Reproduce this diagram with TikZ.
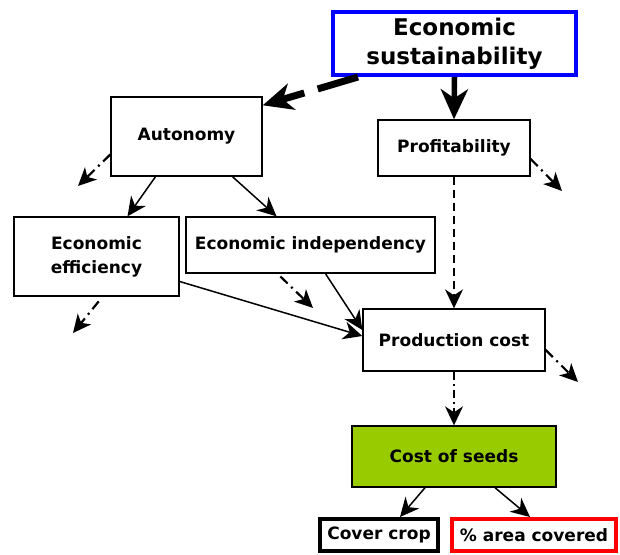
\documentclass[tikz,border=0pt]{standalone}
\usepackage{fontspec}
\usepackage{xcolor}
\setmainfont{DejaVu Sans}
\usetikzlibrary{arrows.meta}

\definecolor{seedgreen}{RGB}{153,204,0}

\begin{document}
\begin{tikzpicture}[x=1pt, y=-1pt,
        box/.style={rectangle, draw, line width=1.4pt, fill=white, align=center, inner sep=0pt, font=\bfseries\fontsize{17}{24}\selectfont},
        arrow/.style={-{Stealth[length=19pt,width=18pt,inset=6pt]}, line width=1.5pt},
        bigarrow/.style={-{Stealth[length=30pt,width=27pt,inset=9pt]}, line width=5.5pt},
        outarrow/.style={-{Stealth[length=18pt,width=17pt,inset=5pt]}, line width=2.2pt, dash pattern=on 10pt off 5pt on 2pt off 5pt}
    ]
        \useasboundingbox[fill=white] (0,0) rectangle (620,554);

        \node[box, draw=blue, line width=4pt, minimum width=243pt, minimum height=63pt, font=\bfseries\fontsize{23}{29}\selectfont] (sust) at (454.5,43.5) {Economic\\sustainability};
        \node[box, minimum width=151pt, minimum height=79pt] (auto) at (186.5,136.5) {Autonomy};
        \node[box, minimum width=152pt, minimum height=56pt] (prof) at (454,148) {Profitability};
        \node[box, minimum width=165pt, minimum height=79pt] (eff) at (96.5,256.5) {Economic\\efficiency};
        \node[box, minimum width=249pt, minimum height=56pt] (indep) at (310.5,245) {Economic independency};
        \node[box, minimum width=182pt, minimum height=62pt] (prod) at (454,340) {Production cost};
        \node[box, fill=seedgreen, minimum width=204pt, minimum height=61pt] (seeds) at (454,456.5) {Cost of seeds};
        \node[box, line width=4pt, minimum width=118pt, minimum height=32pt] (cover) at (379,535) {Cover crop};
        \node[box, draw=red, line width=4pt, minimum width=164pt, minimum height=32pt] (area) at (534,535) {\% area covered};

        \coordinate (autoout) at (78,186);
        \coordinate (profout) at (562,191);
        \coordinate (effout) at (73,333);
        \coordinate (indepout) at (313,308);
        \coordinate (prodout) at (578,382);

        \draw[bigarrow, line width=7pt, dash pattern=on 42pt off 14pt] ([xshift=27pt]sust.south west) -- ([yshift=-9pt]auto.north east);
        \draw[bigarrow] (sust.south) -- (prof.north);
        \draw[arrow] ([xshift=-31pt]auto.south) -- ([xshift=31pt]eff.north);
        \draw[arrow] ([xshift=46pt]auto.south) -- ([xshift=-34pt]indep.north);
        \draw[arrow, dash pattern=on 8pt off 5pt] (prof.south) -- (prod.north);
        \draw[arrow] ([yshift=-25pt]eff.east) -- ([yshift=4pt]prod.west);
        \draw[arrow] ([xshift=15pt]indep.south) -- ([yshift=10pt]prod.west);
        \draw[arrow, dash pattern=on 8pt off 4pt on 2pt off 4pt] (prod.south) -- (seeds.north);
        \draw[arrow] ([xshift=-29pt]seeds.south) -- ([xshift=21pt]cover.north);
        \draw[arrow] ([xshift=41pt]seeds.south) -- ([xshift=-4pt]area.north);

        \draw[outarrow] ([yshift=-18pt]auto.west) -- (autoout);
        \draw[outarrow] ([yshift=-11pt]prof.east) -- (profout);
        \draw[outarrow, shorten <=6pt] ([xshift=6pt]eff.south) -- (effout);
        \draw[outarrow, shorten <=4pt] ([xshift=-33pt]indep.south) -- (indepout);
        \draw[outarrow] ([yshift=-10pt]prod.east) -- (prodout);
    \end{tikzpicture}
\end{document}
